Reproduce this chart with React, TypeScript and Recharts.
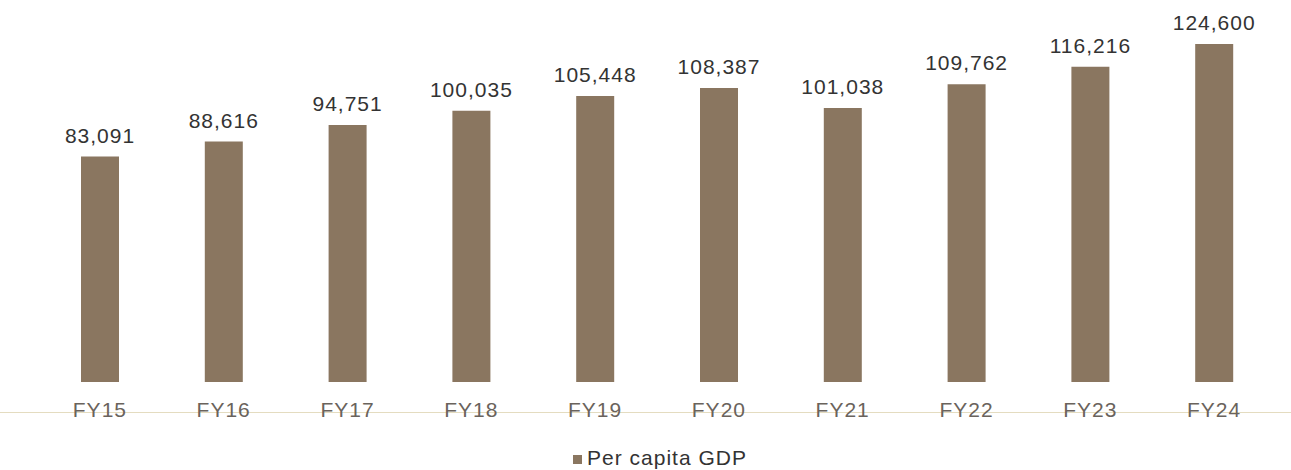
import { Bar, BarChart, LabelList, Legend, XAxis, YAxis } from 'recharts'

const years = ['FY15', 'FY16', 'FY17', 'FY18', 'FY19', 'FY20', 'FY21', 'FY22', 'FY23', 'FY24']
const perCapitaGdp = [83091, 88616, 94751, 100035, 105448, 108387, 101038, 109762, 116216, 124600]

const data = years.map((year, i) => ({ year, gdp: perCapitaGdp[i] }))

const barColor = '#8a7660'
const textStyle = { fontFamily: '"Liberation Sans", Arial, sans-serif', fontSize: 21, letterSpacing: 1 }

export default function App() {
  return (
    <div style={{ position: 'absolute', top: 0, left: 0, width: 1291, height: 470, background: '#fff' }}>
      {/* the faint rule that runs through the category labels */}
      <div
        style={{
          position: 'absolute',
          left: 0,
          top: 412,
          width: 1291,
          height: 1,
          background: '#e4dcc0',
        }}
      />
      <BarChart
        width={1291}
        height={470}
        data={data}
        margin={{ top: 44, right: 15, left: 38, bottom: 0 }}
        style={{ position: 'absolute', top: 0, left: 0 }}
      >
        <XAxis
          dataKey="year"
          height={64}
          axisLine={false}
          tickLine={false}
          tickMargin={14}
          tick={{ ...textStyle, fill: '#6a635c' }}
        />
        <YAxis hide domain={[0, 124600]} />
        <Legend
          iconType="square"
          iconSize={9}
          wrapperStyle={{ ...textStyle, paddingLeft: 8 }}
          formatter={(v) => <span style={{ color: '#333', marginLeft: 1 }}>{v}</span>}
        />
        <Bar
          dataKey="gdp"
          name="Per capita GDP"
          fill={barColor}
          barSize={38}
          isAnimationActive={false}
        >
          <LabelList
            dataKey="gdp"
            position="top"
            offset={14}
            formatter={(v: number) => v.toLocaleString('en-US')}
            style={{ ...textStyle, fill: '#333' }}
          />
        </Bar>
      </BarChart>
    </div>
  )
}
